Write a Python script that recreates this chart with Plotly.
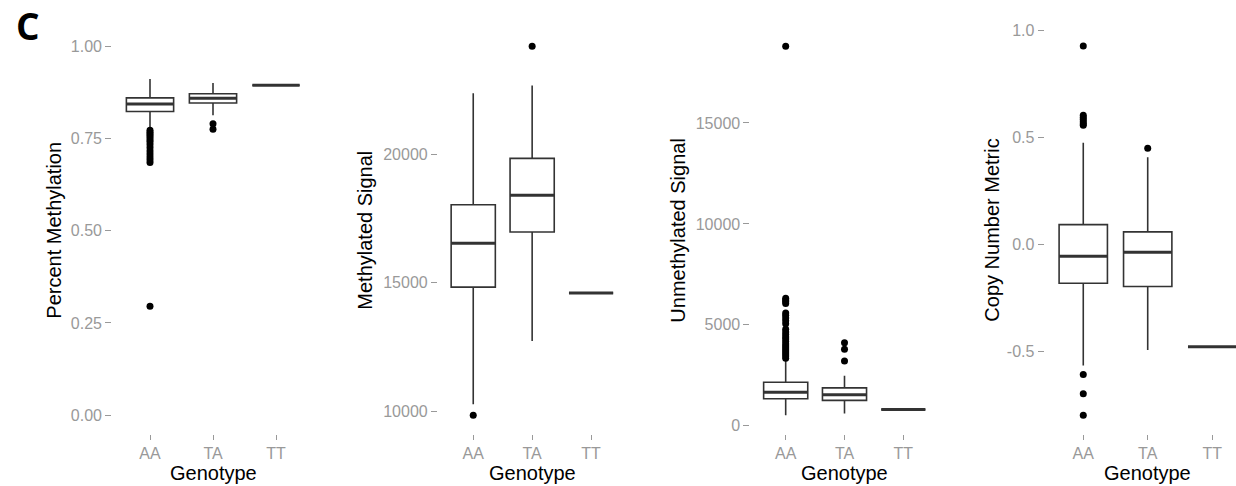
import plotly.graph_objects as go

W, H = 1236, 486

genotypes = ["AA", "TA", "TT"]
xpos = [0, 1, 2]

# Panel 1: Percent Methylation
pm_q1 = [0.823, 0.846, 0.894]
pm_med = [0.843, 0.859, 0.894]
pm_q3 = [0.860, 0.871, 0.894]
pm_lo = [0.777, 0.813, 0.894]
pm_hi = [0.911, 0.900, 0.894]
pm_out_AA = [0.772, 0.767, 0.762, 0.757, 0.752, 0.746, 0.740, 0.733, 0.725,
             0.716, 0.708, 0.700, 0.692, 0.685, 0.295]
pm_out_TA = [0.790, 0.775]

# Panel 2: Methylated Signal
ms_q1 = [14835, 16973, 14605]
ms_med = [16540, 18406, 14605]
ms_q3 = [18034, 19835, 14605]
ms_lo = [10283, 12747, 14605]
ms_hi = [22364, 22659, 14605]
ms_out_AA = [9862]
ms_out_TA = [24191]

# Panel 3: Unmethylated Signal
us_q1 = [1340, 1257, 802]
us_med = [1663, 1536, 802]
us_q3 = [2152, 1879, 802]
us_lo = [523, 607, 802]
us_hi = [3214, 2480, 802]
us_out_AA = [18805, 6311, 6230, 6150, 6060, 5580, 5470, 5340, 5200, 5050,
             4780, 4650, 4520, 4400, 4300, 4180, 4050, 3950, 3850, 3750,
             3650, 3550, 3450, 3350]
us_out_TA = [4110, 3786, 3214]

# Panel 4: Copy Number Metric
cn_q1 = [-0.180, -0.195, -0.477]
cn_med = [-0.054, -0.035, -0.477]
cn_q3 = [0.094, 0.060, -0.477]
cn_lo = [-0.564, -0.492, -0.477]
cn_hi = [0.477, 0.409, -0.477]
cn_out_AA = [0.928, 0.605, 0.595, 0.585, 0.575, 0.565, 0.558, -0.607, -0.697, -0.797]
cn_out_TA = [0.451]

panels = [
    dict(title="Percent Methylation", q1=pm_q1, med=pm_med, q3=pm_q3, lo=pm_lo, hi=pm_hi,
         outA=pm_out_AA, outT=pm_out_TA, yr=[-0.05, 1.05],
         tv=[0, 0.25, 0.5, 0.75, 1.0], tt=["0.00", "0.25", "0.50", "0.75", "1.00"],
         dom=[112.2, 313.8], xr=[-0.6, 2.6], tx=54),
    dict(title="Methylated Signal", q1=ms_q1, med=ms_med, q3=ms_q3, lo=ms_lo, hi=ms_hi,
         outA=ms_out_AA, outT=ms_out_TA, yr=[9146, 24907],
         tv=[10000, 15000, 20000], tt=["10000", "15000", "20000"],
         dom=[437.9, 626.4], xr=[-0.6, 2.6], tx=365),
    dict(title="Unmethylated Signal", q1=us_q1, med=us_med, q3=us_q3, lo=us_lo, hi=us_hi,
         outA=us_out_AA, outT=us_out_TA, yr=[-391, 19719],
         tv=[0, 5000, 10000, 15000], tt=["0", "5000", "10000", "15000"],
         dom=[750.4, 938.6], xr=[-0.6, 2.6], tx=678),
    dict(title="Copy Number Metric", q1=cn_q1, med=cn_med, q3=cn_q3, lo=cn_lo, hi=cn_hi,
         outA=cn_out_AA, outT=cn_out_TA, yr=[-0.883, 1.014],
         tv=[-0.5, 0.0, 0.5, 1.0], tt=["-0.5", "0.0", "0.5", "1.0"],
         dom=[1044.6, 1236.0], xr=[-0.6, 2.37], tx=992),
]

BOXW = 0.75
LINE = "#333333"
TICKC = "#999999"
FONT = "Liberation Sans, Arial, sans-serif"
ydom = [(H - 434) / H, (H - 23) / H]

fig = go.Figure()
annotations = []
layout_axes = {}

for i, p in enumerate(panels):
    n = "" if i == 0 else str(i + 1)
    xa, ya = "x" + n, "y" + n
    fig.add_trace(go.Box(
        x=xpos, q1=p["q1"], median=p["med"], q3=p["q3"],
        lowerfence=p["lo"], upperfence=p["hi"], width=BOXW, whiskerwidth=0,
        fillcolor="white", line=dict(color=LINE, width=1.6), boxpoints=False,
        xaxis=xa, yaxis=ya, showlegend=False, hoverinfo="skip"))
    # thick median lines
    mx, my = [], []
    for xp, m in zip(xpos, p["med"]):
        mx += [xp - BOXW / 2, xp + BOXW / 2, None]
        my += [m, m, None]
    fig.add_trace(go.Scatter(x=mx, y=my, mode="lines", line=dict(color=LINE, width=3),
                             xaxis=xa, yaxis=ya, showlegend=False, hoverinfo="skip"))
    # outliers
    ox = [xpos[0]] * len(p["outA"]) + [xpos[1]] * len(p["outT"])
    oy = p["outA"] + p["outT"]
    fig.add_trace(go.Scatter(x=ox, y=oy, mode="markers",
                             marker=dict(color="black", size=7),
                             xaxis=xa, yaxis=ya, showlegend=False, hoverinfo="skip"))
    xkey = "xaxis" + n
    ykey = "yaxis" + n
    layout_axes[xkey] = dict(
        domain=[p["dom"][0] / W, p["dom"][1] / W], range=p["xr"], anchor=ya,
        tickvals=xpos, ticktext=genotypes, ticks="outside", ticklen=5, tickwidth=1,
        tickcolor=TICKC, tickfont=dict(size=16, color=TICKC, family=FONT),
        showgrid=False, zeroline=False, showline=False, fixedrange=True)
    layout_axes[ykey] = dict(
        domain=ydom, range=p["yr"], anchor=xa,
        tickvals=p["tv"], ticktext=p["tt"], ticks="outside", ticklen=6, tickwidth=1,
        tickcolor=TICKC, tickfont=dict(size=16, color=TICKC, family=FONT),
        showgrid=False, zeroline=False, showline=False, fixedrange=True)
    annotations.append(dict(
        text=p["title"], textangle=-90, xref="paper", yref="paper",
        x=p["tx"] / W, y=(H - 228.5) / H, xanchor="center", yanchor="middle",
        showarrow=False, font=dict(size=20, color="black", family=FONT)))
    annotations.append(dict(
        text="Genotype", xref=xa, yref="paper", x=xpos[1], y=(H - 474) / H,
        xanchor="center", yanchor="middle", showarrow=False,
        font=dict(size=20, color="black", family=FONT)))

annotations.append(dict(
    text="<b>C</b>", xref="paper", yref="paper", x=28 / W, y=(H - 21) / H,
    xanchor="center", yanchor="middle", showarrow=False,
    font=dict(size=37, color="black", family="Open Sans, Lato, sans-serif")))

fig.update_layout(
    width=W, height=H, margin=dict(l=0, r=0, t=0, b=0),
    paper_bgcolor="white", plot_bgcolor="white",
    annotations=annotations, showlegend=False, **layout_axes)

fig.write_html("out.html")
